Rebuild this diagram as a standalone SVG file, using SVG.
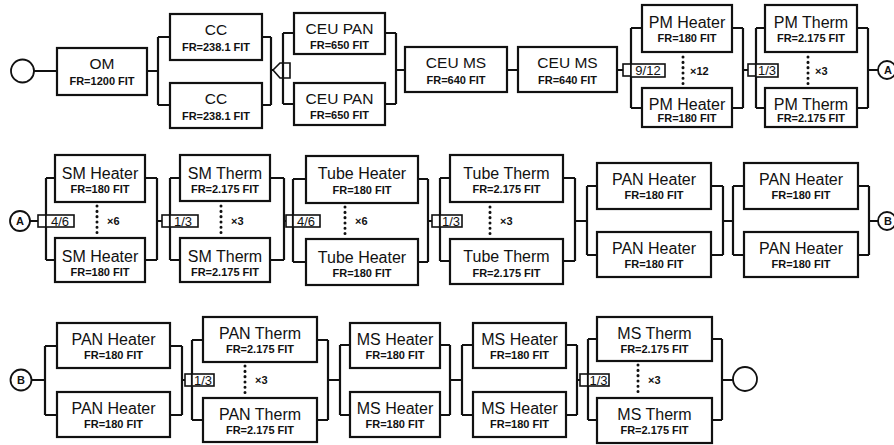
<svg xmlns="http://www.w3.org/2000/svg" width="894" height="445" viewBox="0 0 894 445">
<style>
.bx{fill:#fff;stroke:#111;stroke-width:2.2}
.ln{fill:none;stroke:#111;stroke-width:2.2}
.cir{fill:#fff;stroke:#111;stroke-width:1.8}
.vt{fill:#fff;stroke:#111;stroke-width:1.6}
.dot{fill:none;stroke:#111;stroke-width:3;stroke-dasharray:0.1 5.2;stroke-linecap:round}
text{font-family:"Liberation Sans",Arial,sans-serif;fill:#111;text-anchor:middle}
.t{font-size:16px}
.t1{font-size:15.5px}
.fr{font-size:11px;font-weight:bold}
.vl{font-size:13px}
.mx{font-size:11px;font-weight:bold;text-anchor:start}
.cl{font-size:11px;font-weight:bold}
</style>

<g id="connectors">
  <!-- Row 1 -->
  <path class="ln" d="M34,71H57 M147,71H158 M158,37V105 M158,37H170 M158,105H170"/>
  <path class="ln" d="M262,37H271 M262,105H271 M271,37V105 M271,70H273"/>
  <path class="vt" d="M273,70L280,63H290V78H280Z"/>
  <path class="ln" d="M283,33V104 M283,33H294 M283,104H294"/>
  <path class="ln" d="M385,33H396 M385,104H396 M396,33V104 M396,70H405 M507,70H518"/>
  <path class="ln" d="M617,70H623 M631,28V108 M631,28H642 M631,108H642"/>
  <rect class="vt" x="623" y="64" width="8" height="12"/>
  <path class="dot" d="M683,57V87"/>
  <path class="ln" d="M732,28H743 M732,108H743 M743,28V108 M743,70H748"/>
  <rect class="vt" x="748" y="64" width="8" height="12"/>
  <path class="ln" d="M756,28V108 M756,28H765 M756,108H765"/>
  <path class="dot" d="M808,57V87"/>
  <path class="ln" d="M857,28H868 M857,108H868 M868,28V108 M868,70H878"/>
  <!-- Row 2 -->
  <path class="ln" d="M30,221H38 M46,178V260 M46,178H55 M46,260H55"/>
  <rect class="vt" x="38" y="215" width="8" height="12"/>
  <path class="dot" d="M97,206V236"/>
  <path class="ln" d="M145,178H157 M145,260H157 M157,178V260 M157,221H162"/>
  <rect class="vt" x="162" y="215" width="8" height="12"/>
  <path class="ln" d="M170,178V260 M170,178H180 M170,260H180"/>
  <path class="dot" d="M221,206V236"/>
  <path class="ln" d="M270,178H284 M270,260H284 M284,178V260 M284,221H286"/>
  <rect class="vt" x="286" y="215" width="7" height="12"/>
  <path class="ln" d="M293,179V262 M293,179H306 M293,262H306"/>
  <path class="dot" d="M345,207V237"/>
  <path class="ln" d="M418,179H428 M418,262H428 M428,179V262 M428,221H432"/>
  <rect class="vt" x="432" y="215" width="8" height="12"/>
  <path class="ln" d="M440,178V261 M440,178H450 M440,261H450"/>
  <path class="dot" d="M490,207V237"/>
  <path class="ln" d="M563,178H575 M563,261H575 M575,178V261 M575,221H587"/>
  <path class="ln" d="M587,186V255 M587,186H597 M587,255H597"/>
  <path class="ln" d="M711,186H723 M711,255H723 M723,186V255 M723,221H733"/>
  <path class="ln" d="M733,186V255 M733,186H744 M733,255H744"/>
  <path class="ln" d="M858,186H869 M858,255H869 M869,186V255 M869,221H878"/>
  <!-- Row 3 -->
  <path class="ln" d="M32,380H45 M45,346V415 M45,346H57 M45,415H57"/>
  <path class="ln" d="M170,346H182 M170,415H182 M182,346V415 M182,380H185"/>
  <rect class="vt" x="185" y="374" width="7" height="12"/>
  <path class="ln" d="M192,340V420 M192,340H203 M192,420H203"/>
  <path class="dot" d="M245,366V396"/>
  <path class="ln" d="M317,340H328 M317,420H328 M328,340V420 M328,380H340"/>
  <path class="ln" d="M340,345V415 M340,345H350 M340,415H350"/>
  <path class="ln" d="M440,345H450 M440,415H450 M450,345V415 M450,380H462"/>
  <path class="ln" d="M462,345V415 M462,345H473 M462,415H473"/>
  <path class="ln" d="M566,345H577 M566,415H577 M577,345V415 M577,380H580"/>
  <rect class="vt" x="580" y="374" width="8" height="12"/>
  <path class="ln" d="M588,339V420 M588,339H597 M588,420H597"/>
  <path class="dot" d="M638,365V396"/>
  <path class="ln" d="M712,339H722 M712,420H722 M722,339V420 M722,380H733"/>
</g>

<g id="voters">
  <rect class="vt" x="631" y="64" width="34" height="13"/><text class="vl" x="648" y="75">9/12</text>
  <rect class="vt" x="756" y="64" width="22" height="13"/><text class="vl" x="767" y="75">1/3</text>
  <text class="mx" x="690" y="75">×12</text>
  <text class="mx" x="815" y="75">×3</text>
  <rect class="vt" x="46" y="215" width="28" height="12"/><text class="vl" x="60" y="226">4/6</text>
  <rect class="vt" x="170" y="215" width="28" height="12"/><text class="vl" x="183" y="226">1/3</text>
  <rect class="vt" x="293" y="215" width="27" height="12"/><text class="vl" x="306" y="226">4/6</text>
  <rect class="vt" x="440" y="215" width="22" height="12"/><text class="vl" x="451" y="226">1/3</text>
  <text class="mx" x="107" y="225">×6</text>
  <text class="mx" x="231" y="225">×3</text>
  <text class="mx" x="355" y="225">×6</text>
  <text class="mx" x="500" y="225">×3</text>
  <rect class="vt" x="192" y="374" width="22" height="12"/><text class="vl" x="203" y="385">1/3</text>
  <rect class="vt" x="588" y="374" width="21" height="12"/><text class="vl" x="598.5" y="385">1/3</text>
  <text class="mx" x="255" y="384">×3</text>
  <text class="mx" x="648" y="384">×3</text>
</g>

<g id="start"><circle class="cir" cx="22.5" cy="71" r="11.5"/></g>
<g id="end"><circle class="cir" cx="745" cy="379" r="12"/></g>
<g id="connA1"><circle class="cir" cx="887" cy="70" r="9"/><text class="cl" x="888" y="74">A</text></g>
<g id="connA2"><circle class="cir" cx="20" cy="221" r="10"/><text class="cl" x="20" y="225">A</text></g>
<g id="connB1"><circle class="cir" cx="887" cy="221" r="9"/><text class="cl" x="888" y="225">B</text></g>
<g id="connB2"><circle class="cir" cx="21" cy="380" r="10.5"/><text class="cl" x="21" y="384">B</text></g>

<g id="om"><rect class="bx" x="57" y="48" width="90" height="47"/><text class="t1" x="102" y="69">OM</text><text class="fr" x="102" y="85">FR=1200 FIT</text></g>
<g id="cc1"><rect class="bx" x="170" y="14" width="92" height="46"/><text class="t1" x="216" y="35">CC</text><text class="fr" x="216" y="51">FR=238.1 FIT</text></g>
<g id="cc2"><rect class="bx" x="170" y="83" width="92" height="45"/><text class="t1" x="216" y="104">CC</text><text class="fr" x="216" y="120">FR=238.1 FIT</text></g>
<g id="ceupan1"><rect class="bx" x="294" y="13" width="91" height="41"/><text class="t1" x="339.5" y="34">CEU PAN</text><text class="fr" x="339.5" y="49">FR=650 FIT</text></g>
<g id="ceupan2"><rect class="bx" x="294" y="83" width="91" height="42"/><text class="t1" x="339.5" y="104">CEU PAN</text><text class="fr" x="339.5" y="119">FR=650 FIT</text></g>
<g id="ceums1"><rect class="bx" x="405" y="47" width="102" height="45"/><text class="t1" x="456" y="68">CEU MS</text><text class="fr" x="456" y="84">FR=640 FIT</text></g>
<g id="ceums2"><rect class="bx" x="518" y="47" width="99" height="45"/><text class="t1" x="567.5" y="68">CEU MS</text><text class="fr" x="567.5" y="84">FR=640 FIT</text></g>
<g id="pmh1"><rect class="bx" x="642" y="5" width="90" height="47"/><text class="t" x="687" y="28">PM Heater</text><text class="fr" x="687" y="42">FR=180 FIT</text></g>
<g id="pmh2"><rect class="bx" x="642" y="88" width="90" height="39"/><text class="t" x="687" y="110">PM Heater</text><text class="fr" x="687" y="122">FR=180 FIT</text></g>
<g id="pmt1"><rect class="bx" x="765" y="5" width="92" height="47"/><text class="t" x="811" y="28">PM Therm</text><text class="fr" x="811" y="42">FR=2.175 FIT</text></g>
<g id="pmt2"><rect class="bx" x="765" y="88" width="92" height="39"/><text class="t" x="811" y="110">PM Therm</text><text class="fr" x="811" y="122">FR=2.175 FIT</text></g>

<g id="smh1"><rect class="bx" x="55" y="155" width="90" height="47"/><text class="t" x="100" y="179">SM Heater</text><text class="fr" x="100" y="193">FR=180 FIT</text></g>
<g id="smh2"><rect class="bx" x="55" y="238" width="90" height="44"/><text class="t" x="100" y="262">SM Heater</text><text class="fr" x="100" y="276">FR=180 FIT</text></g>
<g id="smt1"><rect class="bx" x="180" y="155" width="90" height="46"/><text class="t" x="225" y="179">SM Therm</text><text class="fr" x="225" y="193">FR=2.175 FIT</text></g>
<g id="smt2"><rect class="bx" x="180" y="238" width="90" height="44"/><text class="t" x="225" y="262">SM Therm</text><text class="fr" x="225" y="276">FR=2.175 FIT</text></g>
<g id="tubeh1"><rect class="bx" x="306" y="156" width="112" height="47"/><text class="t" x="362" y="179">Tube Heater</text><text class="fr" x="362" y="194">FR=180 FIT</text></g>
<g id="tubeh2"><rect class="bx" x="306" y="239" width="112" height="46"/><text class="t" x="362" y="263">Tube Heater</text><text class="fr" x="362" y="277">FR=180 FIT</text></g>
<g id="tubet1"><rect class="bx" x="450" y="155" width="113" height="47"/><text class="t" x="506.5" y="179">Tube Therm</text><text class="fr" x="506.5" y="193">FR=2.175 FIT</text></g>
<g id="tubet2"><rect class="bx" x="450" y="239" width="113" height="45"/><text class="t" x="506.5" y="262">Tube Therm</text><text class="fr" x="506.5" y="277">FR=2.175 FIT</text></g>
<g id="panh1"><rect class="bx" x="597" y="163" width="114" height="46"/><text class="t" x="654" y="185">PAN Heater</text><text class="fr" x="654" y="199">FR=180 FIT</text></g>
<g id="panh2"><rect class="bx" x="597" y="232" width="114" height="45"/><text class="t" x="654" y="254">PAN Heater</text><text class="fr" x="654" y="268">FR=180 FIT</text></g>
<g id="panh3"><rect class="bx" x="744" y="163" width="114" height="46"/><text class="t" x="801" y="185">PAN Heater</text><text class="fr" x="801" y="199">FR=180 FIT</text></g>
<g id="panh4"><rect class="bx" x="744" y="232" width="114" height="45"/><text class="t" x="801" y="254">PAN Heater</text><text class="fr" x="801" y="268">FR=180 FIT</text></g>

<g id="panh5"><rect class="bx" x="57" y="323" width="113" height="45"/><text class="t" x="113.5" y="345">PAN Heater</text><text class="fr" x="113.5" y="359">FR=180 FIT</text></g>
<g id="panh6"><rect class="bx" x="57" y="392" width="113" height="45"/><text class="t" x="113.5" y="414">PAN Heater</text><text class="fr" x="113.5" y="428">FR=180 FIT</text></g>
<g id="pant1"><rect class="bx" x="203" y="317" width="114" height="45"/><text class="t" x="260" y="339">PAN Therm</text><text class="fr" x="260" y="353">FR=2.175 FIT</text></g>
<g id="pant2"><rect class="bx" x="203" y="398" width="114" height="44"/><text class="t" x="260" y="420">PAN Therm</text><text class="fr" x="260" y="434">FR=2.175 FIT</text></g>
<g id="msh1"><rect class="bx" x="350" y="323" width="90" height="45"/><text class="t" x="395" y="345">MS Heater</text><text class="fr" x="395" y="359">FR=180 FIT</text></g>
<g id="msh2"><rect class="bx" x="350" y="392" width="90" height="45"/><text class="t" x="395" y="414">MS Heater</text><text class="fr" x="395" y="428">FR=180 FIT</text></g>
<g id="msh3"><rect class="bx" x="473" y="323" width="93" height="45"/><text class="t" x="519.5" y="345">MS Heater</text><text class="fr" x="519.5" y="359">FR=180 FIT</text></g>
<g id="msh4"><rect class="bx" x="473" y="392" width="93" height="45"/><text class="t" x="519.5" y="414">MS Heater</text><text class="fr" x="519.5" y="428">FR=180 FIT</text></g>
<g id="mst1"><rect class="bx" x="597" y="317" width="115" height="44"/><text class="t" x="654.5" y="339">MS Therm</text><text class="fr" x="654.5" y="353">FR=2.175 FIT</text></g>
<g id="mst2"><rect class="bx" x="597" y="398" width="115" height="45"/><text class="t" x="654.5" y="420">MS Therm</text><text class="fr" x="654.5" y="434">FR=2.175 FIT</text></g>
</svg>
